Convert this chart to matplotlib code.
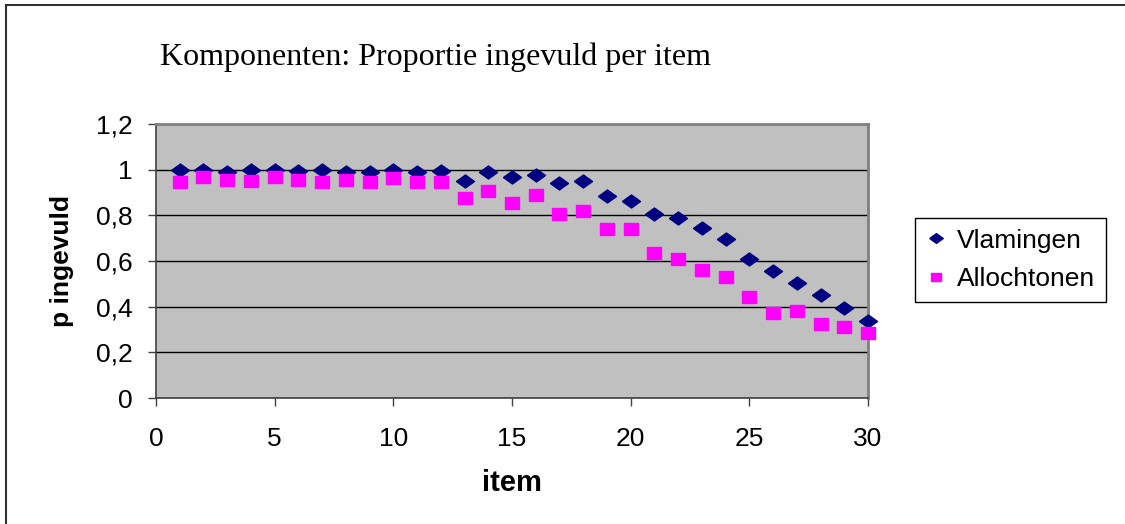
import numpy as np
import matplotlib
matplotlib.use('Agg')
import matplotlib.pyplot as plt
from matplotlib.lines import Line2D
from matplotlib.ticker import FuncFormatter

# proportie ingevuld per item
items = np.arange(1, 31)
vlamingen = [1.00, 1.00, 0.99, 1.00, 1.00, 0.995, 1.00, 0.99, 0.99, 1.00,
             0.99, 0.993, 0.949, 0.991, 0.966, 0.977, 0.94, 0.949, 0.886, 0.861,
             0.808, 0.79, 0.746, 0.695, 0.607, 0.556, 0.502, 0.45, 0.396, 0.336]
allochtonen = [0.944, 0.97, 0.953, 0.952, 0.97, 0.953, 0.944, 0.953, 0.944, 0.962,
               0.944, 0.944, 0.874, 0.908, 0.856, 0.891, 0.804, 0.821, 0.742, 0.742,
               0.636, 0.61, 0.559, 0.532, 0.444, 0.374, 0.383, 0.322, 0.312, 0.286]
xticks = [0, 5, 10, 15, 20, 25, 30]
yticks = [0, 0.2, 0.4, 0.6, 0.8, 1.0, 1.2]

W, H = 1125, 524
sans = 'Liberation Sans'

# brede ruit en rechthoek zoals in Excel
ruit = [(-1, 0), (0, 0.72), (1, 0), (0, -0.72), (-1, 0)]
blok = [(-1, -0.8), (1, -0.8), (1, 0.8), (-1, 0.8), (-1, -0.8)]

fig = plt.figure(figsize=(W / 100, H / 100), dpi=100)
fig.patch.set_facecolor('white')

# kader rond de grafiek (boven en links)
fig.add_artist(Line2D([6 / W, 1], [1 - 5 / H, 1 - 5 / H], color='#303030', lw=1.5))
fig.add_artist(Line2D([6 / W, 6 / W], [0, 1 - 5 / H], color='#303030', lw=1.5))

ax = fig.add_axes([156 / W, 1 - 398 / H, 712 / W, 274 / H])
ax.set_facecolor('#C0C0C0')

ax.plot(items, vlamingen, linestyle='none', marker=ruit, markersize=13,
        color='#000080', label='Vlamingen', zorder=3, clip_on=False)
ax.plot(items, allochtonen, linestyle='none', marker=blok, markersize=10.5,
        color='#FF00FF', label='Allochtonen', zorder=3, clip_on=False)

ax.set_xlim(0, 30)
ax.set_ylim(0, 1.2)
ax.set_xticks(xticks)
ax.set_yticks(yticks)
ax.yaxis.set_major_formatter(FuncFormatter(lambda v, p: ('%g' % round(v, 1)).replace('.', ',')))
ax.grid(axis='y', color='black', lw=1)
ax.set_axisbelow(True)

for s in ['top', 'right']:
    ax.spines[s].set_color('#808080')
    ax.spines[s].set_linewidth(2)
for s in ['left', 'bottom']:
    ax.spines[s].set_color('#404040')
    ax.spines[s].set_linewidth(1.2)

ax.tick_params(axis='both', direction='out', length=6, width=1, color='#404040',
               labelsize=19)
ax.tick_params(axis='y', pad=11)
ax.tick_params(axis='x', pad=15)
for lab in ax.get_xticklabels() + ax.get_yticklabels():
    lab.set_fontfamily(sans)

fig.text(512 / W, 1 - 483 / H, 'item', ha='center', va='center',
         fontsize=21, fontweight='bold', family=sans)
fig.text(62 / W, 1 - 261 / H, 'p ingevuld', ha='center', va='center', rotation=90,
         fontsize=19, fontweight='bold', family=sans)

fig.text(160 / W, 1 - 57 / H, 'Komponenten: Proportie ingevuld per item',
         ha='left', va='center', fontsize=23, family='Liberation Serif')

leg = fig.legend(loc='upper left', bbox_to_anchor=(915 / W, 1 - 218 / H),
                 prop={'family': sans, 'size': 19}, markerscale=0.75,
                 handlelength=0.8, handletextpad=0.4, borderpad=0.4,
                 labelspacing=0.55, fancybox=False, framealpha=1,
                 edgecolor='black', borderaxespad=0)
leg.get_frame().set_linewidth(1)

fig.savefig('out.png', dpi=100)
